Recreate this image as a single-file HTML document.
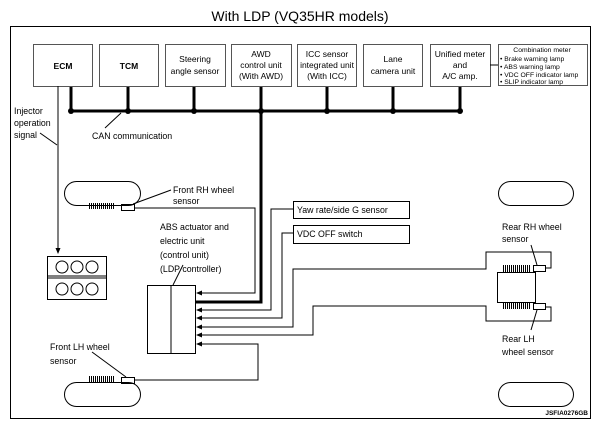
<!DOCTYPE html>
<html><head><meta charset="utf-8"><style>
html,body{margin:0;padding:0;background:#fff;}
svg{display:block;font-family:"Liberation Sans",Arial,sans-serif;}
</style></head><body>
<svg width="601" height="429" viewBox="0 0 601 429" xmlns="http://www.w3.org/2000/svg">
<defs><marker id="a" markerWidth="6" markerHeight="6" refX="5" refY="3" orient="auto" markerUnits="userSpaceOnUse"><path d="M0,0.5 L6,3 L0,5.5z" fill="#000"/></marker></defs>
<text x="300" y="21" font-size="14" text-anchor="middle">With LDP (VQ35HR models)</text>
<rect x="10.5" y="26.5" width="580" height="392" fill="none" stroke="#000" stroke-width="1"/>
<g fill="#fff" stroke="#555" stroke-width="1">
<rect x="33.5" y="44.5" width="59" height="42"/>
<rect x="99.5" y="44.5" width="59" height="42"/>
<rect x="165.5" y="44.5" width="60" height="42"/>
<rect x="231.5" y="44.5" width="60" height="42"/>
<rect x="297.5" y="44.5" width="59" height="42"/>
<rect x="363.5" y="44.5" width="59" height="42"/>
<rect x="430.5" y="44.5" width="60" height="42"/>
<rect x="498.5" y="44.5" width="89" height="41"/>
</g>
<g font-size="8.5" text-anchor="middle">
<text x="63" y="69" font-weight="bold">ECM</text>
<text x="129" y="69" font-weight="bold">TCM</text>
<text x="195" y="62">Steering</text><text x="195" y="74">angle sensor</text>
<text x="261" y="57">AWD</text><text x="261" y="68">control unit</text><text x="261" y="79">(With AWD)</text>
<text x="327" y="57">ICC sensor</text><text x="327" y="68">integrated unit</text><text x="327" y="79">(With ICC)</text>
<text x="393" y="62">Lane</text><text x="393" y="74">camera unit</text>
<text x="460" y="57">Unified meter</text><text x="460" y="68">and</text><text x="460" y="79">A/C amp.</text>
</g>
<g font-size="6.8">
<text x="542" y="52" text-anchor="middle">Combination meter</text>
<text x="500" y="61">• Brake warning lamp</text>
<text x="500" y="69">• ABS warning lamp</text>
<text x="500" y="77">• VDC OFF indicator lamp</text>
<text x="500" y="84">• SLIP indicator lamp</text>
</g>
<line x1="490" y1="65" x2="498" y2="65" stroke="#000"/>
<g stroke="#000" stroke-width="3" fill="none">
<line x1="70" y1="111" x2="461" y2="111"/>
<line x1="71" y1="87" x2="71" y2="111"/>
<line x1="128" y1="87" x2="128" y2="111"/>
<line x1="194" y1="87" x2="194" y2="111"/>
<line x1="327" y1="87" x2="327" y2="111"/>
<line x1="393" y1="87" x2="393" y2="111"/>
<line x1="460" y1="87" x2="460" y2="111"/>
<polyline points="261,87 261,302 195,302"/>
</g>
<g fill="#000">
<circle cx="71" cy="111" r="3"/><circle cx="128" cy="111" r="3"/><circle cx="194" cy="111" r="3"/><circle cx="261" cy="111" r="3"/><circle cx="327" cy="111" r="3"/><circle cx="393" cy="111" r="3"/><circle cx="460" cy="111" r="3"/>
</g>
<g font-size="8.8">
<text x="14" y="114">Injector</text><text x="14" y="126">operation</text><text x="14" y="138">signal</text>
<text x="92" y="139">CAN communication</text>
<text x="173" y="193">Front RH wheel</text><text x="173" y="204">sensor</text>
<text x="160" y="230">ABS actuator and</text><text x="160" y="244">electric unit</text><text x="160" y="258">(control unit)</text><text x="160" y="272">(LDP controller)</text>
<text x="50" y="350">Front LH wheel</text><text x="50" y="364">sensor</text>
<text x="502" y="230">Rear RH wheel</text><text x="502" y="242">sensor</text>
<text x="502" y="342">Rear LH</text><text x="502" y="355">wheel sensor</text>
<text x="297" y="213">Yaw rate/side G sensor</text>
<text x="297" y="237">VDC OFF switch</text>
</g>
<text x="588" y="415" font-size="6.5" font-weight="bold" text-anchor="end">JSFIA0276GB</text>
<g fill="none" stroke="#000" stroke-width="1">
<line x1="40" y1="133" x2="57" y2="145"/>
<line x1="105" y1="128" x2="121" y2="113"/>
<line x1="58" y1="86" x2="58" y2="253" marker-end="url(#a)"/>
<rect x="47.5" y="256.5" width="59" height="43"/>
<line x1="47" y1="278" x2="106" y2="278"/><line x1="47" y1="276" x2="106" y2="276"/>
<circle cx="62" cy="267" r="6"/><circle cx="77" cy="267" r="6"/><circle cx="92" cy="267" r="6"/>
<circle cx="62" cy="289" r="6"/><circle cx="77" cy="289" r="6"/><circle cx="92" cy="289" r="6"/>
<rect x="64.5" y="181.5" width="76" height="24" rx="12"/>
<rect x="64.5" y="382.5" width="76" height="24" rx="12"/>
<rect x="498.5" y="181.5" width="75" height="24" rx="12"/>
<rect x="498.5" y="382.5" width="75" height="24" rx="12"/>
<rect x="121.5" y="204.5" width="13" height="6"/>
<rect x="121.5" y="377.5" width="13" height="6"/>
<line x1="133" y1="204" x2="171" y2="190"/>
<line x1="92" y1="352" x2="126" y2="377"/>
<rect x="147.5" y="285.5" width="48" height="68"/>
<line x1="171" y1="285" x2="171" y2="353"/>
<line x1="183" y1="265" x2="173" y2="285"/>
<rect x="293.5" y="201.5" width="116" height="17"/>
<rect x="293.5" y="225.5" width="116" height="18"/>
<rect x="497.5" y="272.5" width="38" height="30"/>
<rect x="533.5" y="265.5" width="12" height="6"/>
<rect x="533.5" y="303.5" width="12" height="6"/>
<line x1="537" y1="265" x2="531" y2="245"/>
<line x1="537" y1="310" x2="531" y2="330"/>
</g>
<g fill="none" stroke="#000" stroke-width="1" marker-end="url(#a)">
<polyline points="134,208 255,208 255,293 197,293"/>
<polyline points="293,209 271,209 271,310 197,310"/>
<polyline points="293,233 282,233 282,318 197,318"/>
<polyline points="545,268 551,268 551,252 486,252 486,269 293,269 293,327 197,327"/>
<polyline points="545,307 551,307 551,321 486,321 486,306 313,306 313,335 197,335"/>
<polyline points="134,380 258,380 258,344 197,344"/>
</g>
<g stroke="#000" stroke-width="1">
<path d="M89.5,203v6M91.5,203v6M93.5,203v6M95.5,203v6M97.5,203v6M99.5,203v6M101.5,203v6M103.5,203v6M105.5,203v6M107.5,203v6M109.5,203v6M111.5,203v6M113.5,203v6"/>
<path d="M89.5,376v6M91.5,376v6M93.5,376v6M95.5,376v6M97.5,376v6M99.5,376v6M101.5,376v6M103.5,376v6M105.5,376v6M107.5,376v6M109.5,376v6M111.5,376v6M113.5,376v6"/>
<path d="M503.5,265v7M505.5,265v7M507.5,265v7M509.5,265v7M511.5,265v7M513.5,265v7M515.5,265v7M517.5,265v7M519.5,265v7M521.5,265v7M523.5,265v7M525.5,265v7M527.5,265v7M529.5,265v7"/>
<path d="M503.5,302v7M505.5,302v7M507.5,302v7M509.5,302v7M511.5,302v7M513.5,302v7M515.5,302v7M517.5,302v7M519.5,302v7M521.5,302v7M523.5,302v7M525.5,302v7M527.5,302v7M529.5,302v7"/>
</g>
</svg>
</body></html>
